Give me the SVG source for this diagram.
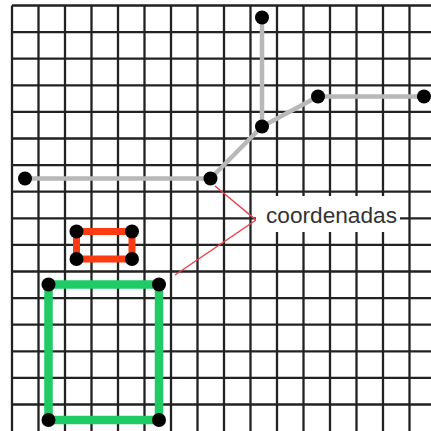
<svg xmlns="http://www.w3.org/2000/svg" width="431" height="431" viewBox="0 0 431 431">
<style>
.grid{stroke:#222;stroke-width:2.3;fill:none}
.gray{stroke:#b8b8b8;stroke-width:4.5;fill:none;stroke-linecap:round;stroke-linejoin:round}
.call{stroke:#e8404f;stroke-width:1.5;fill:none}
.dot{fill:#000}
.lbl{font-family:"Liberation Sans",Arial,sans-serif;font-size:22.5px;fill:#333}
</style>
<rect width="431" height="431" fill="#fff"/>
<g id="grid" class="grid">
<path d="M12 5.5V431M38.5 5.5V431M65 5.5V431M91.5 5.5V431M118 5.5V431M144.5 5.5V431M171 5.5V431M197.5 5.5V431M224 5.5V431M250.5 5.5V431M277 5.5V431M303.5 5.5V431M330 5.5V431M356.5 5.5V431M383 5.5V431M409.5 5.5V431"/>
<path d="M12 5.5H431M12 32.1H431M12 58.7H431M12 85.3H431M12 111.9H431M12 138.5H431M12 165.1H431M12 191.7H431M12 218.3H431M12 244.9H431M12 271.5H431M12 298.1H431M12 324.7H431M12 351.3H431M12 377.9H431M12 404.5H431"/>
</g>
<g id="connectors">
<path class="gray" d="M25 178.5H210.5"/>
<path class="gray" d="M210.5 178.5L262 126.5L318 96.5H424"/>
<path class="gray" d="M262 17.5V126.5"/>
<path class="call" d="M215 186L256 220L175 275"/>
</g>
<g id="label">
<rect x="256" y="196" width="144" height="36" fill="#fff"/>
<text class="lbl" x="266" y="223" textLength="131" lengthAdjust="spacingAndGlyphs">coordenadas</text>
</g>
<g id="red-rect">
<rect x="76.5" y="231.5" width="55.5" height="27.5" fill="none" stroke="#ff3b12" stroke-width="7"/>
<circle class="dot" cx="76.5" cy="231.5" r="7"/>
<circle class="dot" cx="132" cy="231.5" r="7"/>
<circle class="dot" cx="76.5" cy="259" r="7"/>
<circle class="dot" cx="132" cy="259" r="7"/>
</g>
<g id="green-rect">
<rect x="48.5" y="284.5" width="110.5" height="135.5" fill="none" stroke="#1fcb64" stroke-width="8.5"/>
<circle class="dot" cx="48.5" cy="284.5" r="7"/>
<circle class="dot" cx="159" cy="284.5" r="7"/>
<circle class="dot" cx="48.5" cy="420" r="7"/>
<circle class="dot" cx="159" cy="420" r="7"/>
</g>
<g id="path-nodes">
<circle id="n1" class="dot" cx="25" cy="178.5" r="7"/>
<circle id="n2" class="dot" cx="210.5" cy="178.5" r="7"/>
<circle id="n3" class="dot" cx="262" cy="126.5" r="7"/>
<circle id="n4" class="dot" cx="262" cy="17.5" r="7"/>
<circle id="n5" class="dot" cx="318" cy="96.5" r="7"/>
<circle id="n6" class="dot" cx="424" cy="96.5" r="7"/>
</g>
</svg>
